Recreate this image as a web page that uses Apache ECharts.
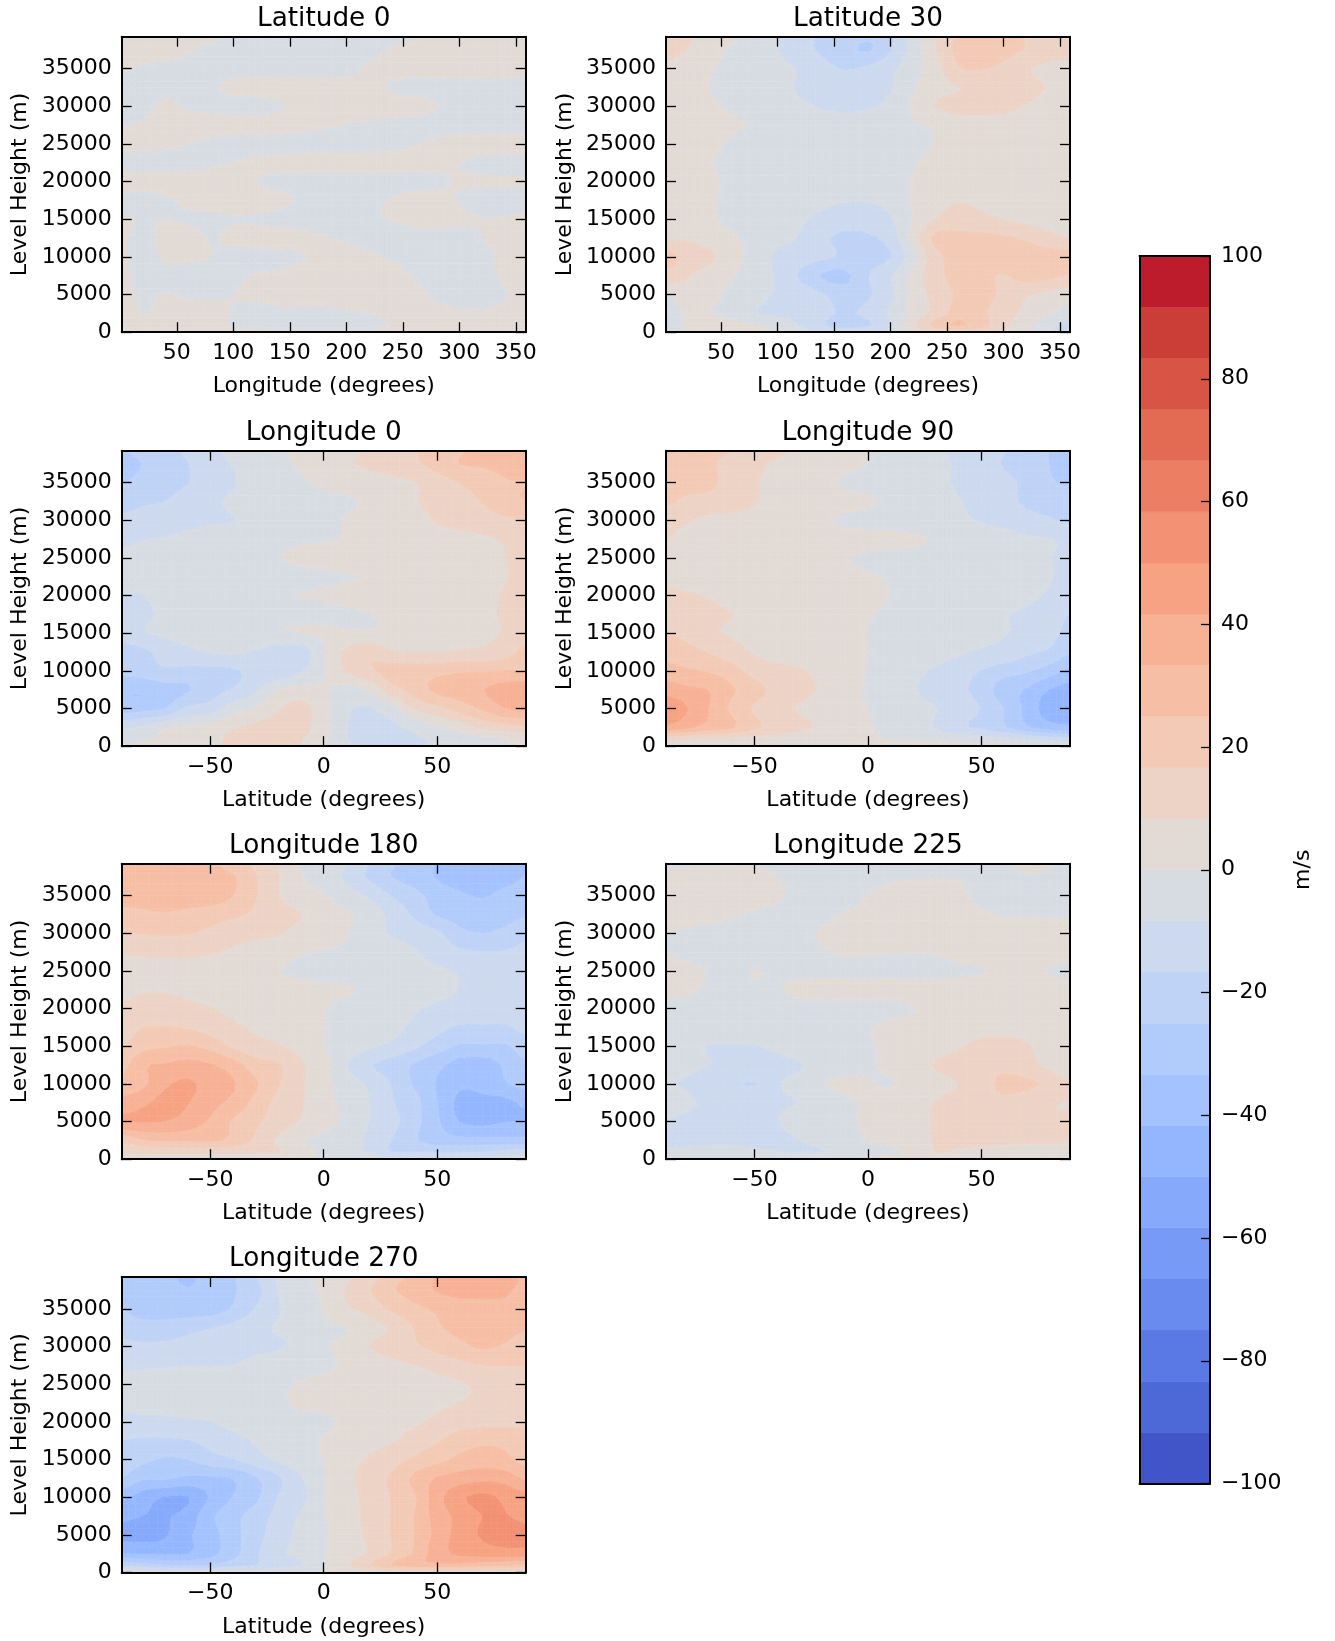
<!DOCTYPE html>
<html><head><meta charset="utf-8">
<style>html,body{margin:0;padding:0;background:#fff}#c{width:1335px;height:1641px}</style>
<script src="https://cdn.jsdelivr.net/npm/echarts@6/dist/echarts.min.js"></script>
</head><body><div id="c"></div>
<script>
const HEIGHTS=[39250,37500,35000,32500,30000,27500,25000,22500,20000,17500,15000,12500,10000,7500,5000,2500,1000,0];
const LONGITUDES=[1.25,20,40,60,80,100,120,140,160,180,200,220,240,260,280,300,320,340,358.75];
const LATITUDES=[-89,-80,-70,-60,-50,-40,-30,-20,-10,0,10,20,30,40,50,60,70,80,89];
const HEIGHT_TICKS=[0,5000,10000,15000,20000,25000,30000,35000];
const LON_TICKS=[50,100,150,200,250,300,350];
const LAT_TICKS=[-50,0,50];
const CBAR_TICKS=[-100,-80,-60,-40,-20,0,20,40,60,80,100];
const latitude0=[
[3,3,3,3,2,-2,-3,-3,-3,-3,-3,-3,-2,-1,2,3,3,3,3],
[3,3,3,1,-2,-3,-3,-3,-3,-3,-3,-2,0.5,3,3,3,3,3,3],
[1,-1,-2,-3,-3,-3,-3,-3,-3,-3,-2,1,3,3,3,3,3,3,3],
[-3,-3,-3,-3,-1,2,3,3,3,3,3,2,-1,-3,-3,-3,-3,-3,-3],
[-3,-3,2,-1,-2,-3,-3,-1,2,3,3,3,3,3,0.5,-3,-3,-3,-3],
[-0.5,1,3,3,3,3,3,3,2,1,-0.3,-1,-2,-3,-3,-3,-3,-3,-3],
[3,2,1.5,0,-1.5,-3,-3,-3,-3,-3,-3,-3,-2,-0.5,1.5,3,3,3,3],
[-3,-3,-3,-2,-1,0.2,1.5,2,3,3,3,3,3,3,1.5,0,-2,-3,-3],
[2,3,3,3,3,1.5,0,-2,-3,-3,-3,-3,-3,-3,-1,0.5,1,1,1],
[-3,-3,-1,1.5,3,3,3,2,-1,-3,-3,-1.5,0.5,3,2,-0.5,-3,-3,-3],
[1,-0.5,0,-1,-2,-0.5,-1,-2,-3,-3,-2.5,-0.5,0.2,2,3,1.5,0.3,0.6,1.5],
[1,-2,2,3,-0.5,2,3,3,2,0.5,-1,-3,-3,-3,-3,-3,0,3,3],
[1,-3,1.5,1.5,0,-3,-3,-2,-0.5,1.5,3,1.5,-1,-3,-3,-3,-2.5,2,3],
[2,-3,-3,-3,-3,-1.5,0.7,1,2,3,3,3,3,-0.5,-3,-3,-3,1.5,3],
[3,-1,0.3,-1,-1,0,1,1,2,2,3,3,3,2,-1.5,-3,-3,-0.5,2],
[3,-0.3,2,3,2,-0.3,-2,-0.5,-1,-1,-0.7,0,1,3,2,1,1,1.5,3],
[3,3,3,3,1.5,-0.5,-2,-2,-2,-2,-2,-1,0.5,3,3,3,3,3,3],
[3,3,3,3,2,1,1,0,-2,-2,-2,-0.5,2,3,3,3,3,3,3]];
const latitude30=[
[10,9,5,1,-3,-8,-13,-18,-20,-24,-18,-4,8,18,20,19,16,12,12],
[12,8,3,-1,-4,-8,-14,-18,-22,-26,-17,-5,8,19,25,20,16,11,10],
[6,3,0.5,-2,-4,-6,-9,-14,-17,-15,-10,-3,5,16,17,14,9,7,7],
[5,3,0,-2,-4,-5,-9.5,-12,-13,-13,-9,-1,5,8,10,11,10,8,6],
[5,3,1,-1,-3,-5,-7,-9,-10,-9,-6,1.5,8.5,11,11,10,8,6,5],
[5,4,3,1,-0.5,-3,-5,-5,-5,-5,-4,-1,1,4,5,5,5,5,5],
[4,4,1.5,-1,-3,-4,-5,-5,-5,-5,-4,-2,0.5,3,4,4,4,4,4],
[4,3,0.3,-1.5,-3,-4,-5,-5,-5,-5,-3,-0.5,2,4,4,4,4,4,4],
[4,3,1,-1.5,-3,-4,-5,-5,-5,-5,-3,0.5,3,4,4,4,4,4,4],
[4,2,0.5,-1,-3,-4,-6,-7,-8,-8,-6,1.5,6,8,7,5,4,4,4],
[3,2,1,-2,-4,-6,-7.5,-10,-12,-12,-9,0,8.5,11,10,8,6,5,4],
[7,7,4,1,-3,-6,-9,-15,-19,-18,-13,4,19,19,19,18,15,11,8],
[20,14,10,3,-3,-10,-12,-15,-18,-20,-17,-3,14,19,21,22,22,21,20],
[13,9,4,1,-6,-9,-18,-26,-27,-17,-9,3,14,19,19,16,20,19,16],
[0,5,3,-3,-6,-9,-11,-16,-21,-18,-10,3,11,18,19,15,9,6,3],
[-9,2,0,-3,-8,-10,-11,-14,-18,-14,-7,3,11,20,18,12,6,1,-3],
[-10,2,3,2,0,-3,-9,-16,-22,-18,-9,6,20,26,20,10,3,-5,-10],
[-10,2,3,3,2,-1,-5,-9,-10,-10,-6,4,10,12,12,8,0,-8,-10]];
const longitude0=[
[-26,-22,-20,-15,-11,-6,-4,-1,2,4,6,9,11,16,20,24,28,30,31],
[-28,-25,-20,-17,-11,-8,-5,-1.5,1,4,7,10,12,15,20,25,26,28,30],
[-26,-22,-19,-17,-12,-9,-5,-2.5,-1,1.5,3,4,6,8,12,17,20,24,25],
[-20,-18,-16.7,-13,-10,-7,-5,-3,-3,-2,-1,1,4,8,10,13,17,22,25],
[-15,-13,-11,-10,-9,-8.5,-5,-4,-3,-1.5,0.5,3,4,6,9,11,13,15,16],
[-10,-8.5,-8,-7,-6,-5,-4,-2.5,-1,-0.5,0.3,1,2,4,5,6,7,9,10],
[-7,-7,-6,-6,-5,-4,-3,-0.3,1.5,2,3,4,4,5,5,5,7,8.3,11],
[-7,-7,-6,-6,-5,-4,-3,-3,-2,-1,-0.5,0.3,2,4,5,5,6,8,10],
[-8.5,-8.4,-6,-5,-5,-4,-3,-1.5,0.3,0.5,2,3,4,5,5,5,6,9,10],
[-12,-10,-7,-5,-5,-4,-3,-2.5,-2,-1.5,-1,-0.3,2,4,5,6,7,9,10],
[-14,-9,-7,-6,-5,-4,-2,-0.5,0,1,1,1,1.5,3,4,6,7,9,14],
[-20,-19,-13,-10,-8,-7,-9,-13,-13,-1,10,15,9,8,8,9,10,13,19],
[-23,-20,-18,-19,-19,-18,-14,-15,-9,-1,9,15,20,21,22,24,24,25,25],
[-32,-33,-28,-26,-20,-16,-10,0.3,3,1,-3,1,13,20,27,29,33,37,38],
[-30,-28,-25,-15,-13,-4,1,7.5,11,3,-7,-9,-3,9,14,20,26,33,35],
[-10,-7,-1,1,3,7,10,11,11,3,-8,-10,-10,-6,-1,4,10,13,15],
[-3,-1,0.5,2,5,10,10,10,9,2,-8,-10,-10,-9,-7,-3,-1,0.5,3],
[0,1,2,4,7,9,9,9,8,1,-7,-9,-9,-9,-7,-4,-2,0,2]];
const longitude90=[
[26,24,19,17,12,10,7,5,3,0.5,-2,-4,-7,-10,-13,-16,-20,-25,-27],
[22,19,18,13,10,7,5,4,2,-0.2,-2,-4,-7,-9,-12,-17.5,-21,-25,-28],
[20,19,18,14,9,6,4,2,-1,-2,-3,-5,-7,-9,-11,-14,-19,-24,-26],
[18,15,14,12,9,5,4,3,2,1,-1.5,-3,-6,-8,-10,-14,-18,-19,-22],
[11,9,6,6,5,4,2.5,1,-1,-2,-3,-5,-6,-7,-9,-11,-14,-16,-18],
[8.5,6,4,4,4,4,3,2,2,2,2,1.5,-1,-3,-4,-5,-7,-8,-10],
[6,5,4,4,4,4,3,2,0.3,-1,-2,-3,-4,-5,-5,-6,-6,-8,-10],
[7,6,5,4,4,4,3,2,1,0.5,-0.5,-2,-3,-4,-5,-6,-7,-8,-10],
[9.5,9,7.8,5.5,4,4,3,3,2,1,0,-1,-2,-3,-4,-5,-7,-9,-11],
[12,11,10,8.4,6,5,4,3,2,0.3,-0.8,-2,-3,-4,-5,-7.8,-9.5,-12,-17],
[16.7,14,9.5,7.5,6,5,4,3,2,-0.1,-1.5,-3,-4,-5,-6,-8,-10,-14,-19],
[22,20,16,12,7.5,6,5,4,2,0,-1,-3,-5,-7,-9.5,-11,-15,-18,-24],
[28,26,24,20,13,10,9,6,3,-0.3,-2,-6,-9.5,-13,-17,-21,-24,-29,-36],
[38,35,33,26,20,14,11,7,3,-1,-3,-7.5,-12,-15,-20,-30,-34,-42,-45],
[47,42,33,23,15.5,11,7.5,5,2,0,-3,-5,-8,-12,-17,-25,-36,-46,-48],
[40,35,30,26,18,14,10,7,2.5,0.5,-2,-4,-9,-15.5,-18,-24,-32,-38,-40],
[10,9,7,6,5,4,3,2.5,2,1,-0.5,-1,-2,-3,-5,-7,-10,-13,-15],
[3,2,1,1,0.5,-0.5,-0.8,-0.8,-0.5,1,3,3,3,2,2,2,1,0.5,0.3]];
const longitude180=[
[29,29,29,29,27,20,15,8,-0.5,-3,-8,-16.7,-24,-28,-34,-36,-36,-36,-34],
[30,30,30,31,30,26,17,8.5,0.5,-3,-10,-18,-25,-29,-34,-37,-38,-36,-33],
[29,29,30,31,30,25,17,8.6,3,0.5,-4,-9.5,-17,-22,-29,-32,-34,-31,-30],
[22,23,24,22,20,18,15,11,8.5,3,1,-3,-11,-18,-26,-28,-29,-28,-26],
[16,17,17.5,17,15,12,10,9,5,3,0.3,-5,-9,-12,-15,-23,-25,-23,-19],
[9,9.5,10,10,9,7,5,3,0.5,-0.5,-1,-3,-5,-7.5,-12,-15,-16.5,-16,-14],
[5,6,6,6,5,4,3,0.1,-1,-2,-3,-4,-5,-6,-7,-9,-10,-11,-11],
[7,8,8,7,5,4,3,2,2,1,0.8,-1.5,-3,-5,-7,-8.5,-10,-10,-10],
[9,10,10.5,10,8.8,6,4,3,1.5,0.2,-2,-3,-5,-7.5,-9.5,-10,-11,-11,-10],
[12,16.5,17,16,13,10,7,5,2,0.3,-2,-4,-6,-10,-14,-18,-18,-18,-14],
[16,22,24,25.5,22,15,11,9,5,0.2,-3,-7,-10,-15,-21,-26,-26,-26,-21],
[22,32,34,36,34,29,20,17.5,9.5,3,-8,-16,-20,-26,-31,-37,-38,-32,-26],
[27,31,40,43,38,34,26,17,9.5,2,-4,-9.5,-17,-26,-34,-40,-39,-34,-30],
[36,40,44,42,36,31,22,14,9,2.5,-2,-8,-16,-22,-33,-44,-44,-44,-40],
[41.5,42,41.5,38,32,24,18,13,7.5,1.5,-1,-8.3,-14,-22,-32,-42,-44,-42,-41.5],
[18,24,26,26,26,23,15,7,0.2,-1,-4,-10,-16.7,-24,-29,-31,-31,-31,-31],
[9,10,11,11,11,10,9,8.6,3,-1.5,-6,-9,-17,-17,-18,-18,-17,-15,-12],
[5,5,5,5,5,5,4,3,1,-1,-3,-4,-5,-5,-6,-6,-6,-5,-4]];
const longitude225=[
[-1,-1,-1,-0.5,-1,-2,-3,-3,-3,-3,-3,-3,-3,-2,-2,-0.3,0.8,0.3,-2],
[3,3,3,3,3,0,-2,-3,-3,-2,-1,-0.5,-0.3,-0.3,-1,-2,-0.3,-1,-2],
[3,3,3,3,3,1,-2,-3,-2,0.2,2,3,3,1.5,-2,-3,-3,-3,-3],
[3,3,2,1,-1,-2,-3,-2,0.5,1,3,3,3,3,1,-0.5,-0.5,-0.8,-1],
[-0.3,-1,-2,-3,-3,-3,-2,1,3,3,3,3,3,3,3,3,3,3,3],
[-0.5,-2,-3,-3,-3,-3,-3,-0.5,0.8,0.6,0.1,0.2,0.5,2,3,3,3,3,3],
[3,2,-0.5,-1,0.2,-1,-2,-2,-2,-2,-2,-2,-2,-1,-0.5,2,2,-0.5,-1],
[1.5,1,-1,-2,-1,-0.5,2,3,3,3,3,3,3,3,3,3,3,3,3],
[-2,-2,-3,-3,-3,-3,-3,-3,-3,-3,-2,-0.3,2,3,3,3,3,3,3],
[-3,-3,-3,-3,-3,-3,-3,-3,-2,-0.5,2,3,4,6,6,6,5,4,4],
[-4,-6,-8.6,-8.8,-8.6,-7,-4,-3,-2,-0.5,1,3,5,7.5,10,11,9,5,4],
[-7,-6.5,-8.2,-10,-10,-10,-8.9,-5,-2,-1,2,6,9,12,14,15,11,6,1],
[-8.3,-9,-13,-15,-17,-9,-6,-0.2,1,0.5,-0.5,4,6,8.4,14,18,18,15,9],
[-6,-7,-10,-12,-10,-9,-8.2,-4,-1,1,4,6,8.6,11,14,15,12,9,8],
[-8.3,-10,-10,-11,-10,-8.5,-5,-3,-1,1,3,6,9,11,11,11,10,9,9],
[-10,-10,-10,-10,-9.5,-10,-8.3,-5,-2,0.2,1,5,9,11,10,10,9.5,9.5,9],
[-7,-7,-6,-6,-7.5,-8,-9,-8.6,-4,-1,-0.5,1,8.5,7,6,5,4,4,4],
[-3,-3,-3,-3,-3,-3,-3,-3,-1,0.5,1,2,3,3,3,3,3,3,3]];
const longitude270=[
[-28,-29,-32,-34,-31,-26,-17,-7,-3,2,7,12,22,27,34,35,36,36,32],
[-28,-29,-31,-33,-31,-26,-20,-8,-3,1.5,9,16,24,28,34,36,35,34,32],
[-25,-28,-30,-30,-29,-24,-16,-9,-4,0.5,7,11,18,23,26,29,31,32,31],
[-21,-22,-21,-19,-17,-14,-11,-7.5,-7.5,-1,-0.3,5,9,17,24,27,28,28,26],
[-14,-15,-15,-14,-13,-12,-10,-9,-6,-1,2,8.3,12,15.5,19,23,26,24,20],
[-9.5,-9,-8.8,-8.5,-8.5,-8.2,-6,-4.5,-2.5,-0.8,0.5,2,6,8,11,14,16.5,16.8,17],
[-7,-7,-6,-5,-5,-4,-3,-1.5,0.5,1,2,3,4,5,6,7.5,10,11,11],
[-7.5,-7,-6,-5,-5,-4,-3,-1,1,1,2,4,5,6,7,8.4,10,11,11],
[-10,-10,-10,-9.5,-8.5,-6,-4,-3,-2,-1,1,4,6,7,10,13,14,14,14],
[-16.8,-18,-18,-17,-14,-11,-7.5,-5,-3,0.5,3,6,7.5,12,16,21,23,23,22],
[-20,-23,-26,-25,-20,-17,-11.5,-7,-3,0.3,6,9,13,18,22,27,29,27,22],
[-25,-32,-32,-35,-35,-33,-26,-18,-9,-1,6,12,18,27,34,37,39,38,32],
[-40,-46,-50.5,-50.5,-41,-33,-27,-16,-11,-0.5,5,11,17,24,38,48,52,48,44],
[-48,-50,-50.5,-47,-35,-28,-21,-14,-7,-0.5,4,11,17,25,37,44,50,50.5,47],
[-52,-53,-51,-43,-37,-28,-20,-12,-6,-1,4,10,17,25,36,45,51,54,53],
[-41.5,-42,-43,-42,-36,-28,-18,-10,-6,-0.5,4,9,17,26,38,43,45,46,46],
[-20,-22,-25,-25,-25,-20,-17,-11,-8.5,-1,7,16,25,30,31,30,28,26,24],
[-3,-3,-3,-3,-3,-3,-3,-3,-2,1,2,3,3,3,3,3,3,3,3]];

const PANEL_TITLES=['Latitude 0','Latitude 30','Longitude 0','Longitude 90','Longitude 180','Longitude 225','Longitude 270'];
const PANEL_VALUES=[latitude0,latitude30,longitude0,longitude90,longitude180,longitude225,longitude270];

/* ---- matplotlib coolwarm stops (styling only) ---- */
const CW_R=[0.2298,0.2662,0.3039,0.3428,0.3830,0.4244,0.4667,0.5096,0.5530,0.5963,0.6392,0.6813,0.7222,0.7615,0.7987,0.8335,0.8654,0.8978,0.9241,0.9445,0.9589,0.9673,0.9700,0.9668,0.9580,0.9437,0.9239,0.8990,0.8692,0.8346,0.7956,0.7525,0.7057];
const CW_G=[0.2987,0.3531,0.4065,0.4588,0.5094,0.5581,0.6046,0.6483,0.6889,0.7261,0.7596,0.7890,0.8140,0.8343,0.8498,0.8602,0.8654,0.8489,0.8274,0.8009,0.7698,0.7341,0.6943,0.6504,0.6028,0.5518,0.4973,0.4396,0.3783,0.3129,0.2413,0.1572,0.0156];
const CW_B=[0.7537,0.8015,0.8450,0.8837,0.9174,0.9456,0.9682,0.9848,0.9954,0.9998,0.9982,0.9904,0.9766,0.9569,0.9317,0.9011,0.8654,0.8209,0.7745,0.7267,0.6780,0.6288,0.5794,0.5303,0.4818,0.4342,0.3880,0.3432,0.3003,0.2593,0.2205,0.1841,0.1502];
function cw(t){const f=t*32,i=Math.min(31,Math.floor(f)),a=f-i;
  const c=s=>Math.round(255*(s[i]*(1-a)+s[i+1]*a));return `rgb(${c(CW_R)},${c(CW_G)},${c(CW_B)})`;}
const N_BANDS=24, LEVEL_MIN=-100, LEVEL_STEP=200/24;
const BAND_COLORS=[];for(let k=0;k<N_BANDS;k++)BAND_COLORS.push(cw((k+0.5)/N_BANDS));
const lo=k=>LEVEL_MIN+k*LEVEL_STEP;

/* contour drawing: smooth surface through the read grid values, then clip each piece to the bands */
const SUB=3;
function cr(p0,p1,p2,p3,t){return 0.5*((2*p1)+(-p0+p2)*t+(2*p0-5*p1+4*p2-p3)*t*t+(-p0+3*p1-3*p2+p3)*t*t*t);}
function surface(values){
  const R=values.length,C=values[0].length,at=(j,i)=>values[Math.max(0,Math.min(R-1,j))][Math.max(0,Math.min(C-1,i))];
  return function(j,i,sj,si){
    const t=si/SUB,u=sj/SUB,col=[];
    for(let q=-1;q<=2;q++)col.push(cr(at(j+q,i-1),at(j+q,i),at(j+q,i+1),at(j+q,i+2),t));
    return cr(col[0],col[1],col[2],col[3],u);
  };
}
function clipHalf(poly,level,keepAbove){
  const out=[];
  for(let a=0;a<poly.length;a++){
    const P=poly[a],Q=poly[(a+1)%poly.length];
    const pin=keepAbove?P[2]>=level:P[2]<=level, qin=keepAbove?Q[2]>=level:Q[2]<=level;
    if(pin)out.push(P);
    if(pin!==qin){const t=(level-P[2])/(Q[2]-P[2]);out.push([P[0]+t*(Q[0]-P[0]),P[1]+t*(Q[1]-P[1]),level]);}
  }
  return out;
}
function contourRenderer(xs,values){
  const S=surface(values);
  return function(params,api){
    const i=api.value(2),j=api.value(3);
    const children=[];
    const emit=(poly,k)=>{ if(poly.length<3)return;
      children.push({type:'polygon',silent:true,shape:{points:poly.map(p=>api.coord([p[0],p[1]]))},
        style:{fill:BAND_COLORS[k],stroke:BAND_COLORS[k],lineWidth:0.5}});};
    const X=s=>xs[i]+(xs[i+1]-xs[i])*s/SUB, Y=s=>HEIGHTS[j]+(HEIGHTS[j+1]-HEIGHTS[j])*s/SUB;
    for(let sj=0;sj<SUB;sj++)for(let si=0;si<SUB;si++){
      const A=[X(si),Y(sj),S(j,i,sj,si)],B=[X(si+1),Y(sj),S(j,i,sj,si+1)],
            C=[X(si+1),Y(sj+1),S(j,i,sj+1,si+1)],D=[X(si),Y(sj+1),S(j,i,sj+1,si)];
      const M=[(A[0]+B[0])/2,(A[1]+D[1])/2,(A[2]+B[2]+C[2]+D[2])/4];
      const vmin=Math.min(A[2],B[2],C[2],D[2]),vmax=Math.max(A[2],B[2],C[2],D[2]);
      const k0=Math.floor((vmin-LEVEL_MIN)/LEVEL_STEP),k1=Math.floor((vmax-LEVEL_MIN)/LEVEL_STEP);
      if(k0===k1){emit([A,B,C,D],k0);continue;}
      const tris=[[A,B,M],[B,C,M],[C,D,M],[D,A,M]];
      for(let k=k0;k<=k1;k++)for(const T of tris){
        let p=clipHalf(T,lo(k),true); if(p.length) p=clipHalf(p,lo(k+1),false);
        emit(p,k);
      }
    }
    return {type:'group',children};
  };
}

const FONT='DejaVu Sans';
const minus=v=>String(v).replace('-','\u2212');
const COL_X=[121.7,666], COL_W=404;
const ROW_Y=[36.7,450.7,863.7,1277], ROW_H=295.5;
const LAYOUT=[[0,0],[1,0],[0,1],[1,1],[0,2],[1,2],[0,3]];
const grids=[],xAxes=[],yAxes=[],series=[],titles=[];
const spine={show:true,onZero:false,lineStyle:{color:'#000',width:2}};
function axisCommon(){return {type:'value',z:6,splitLine:{show:false},axisLine:spine};}
LAYOUT.forEach(([c,r],p)=>{
  const isLon=p<2,xs=isLon?LONGITUDES:LATITUDES,ticks=isLon?LON_TICKS:LAT_TICKS;
  grids.push({left:COL_X[c],top:ROW_Y[r],width:COL_W,height:ROW_H});
  const xmin=xs[0],xmax=xs[xs.length-1];
  xAxes.push(Object.assign(axisCommon(),{gridIndex:p,position:'bottom',min:xmin,max:xmax,
    name:isLon?'Longitude (degrees)':'Latitude (degrees)',nameLocation:'middle',nameGap:43.5,
    nameTextStyle:{fontFamily:FONT,fontSize:22,color:'#000'},
    axisTick:{show:true,inside:true,length:10,customValues:ticks,lineStyle:{color:'#000',width:1.3}},
    axisLabel:{show:true,customValues:ticks,formatter:minus,margin:10,fontFamily:FONT,fontSize:22,color:'#000'}}));
  xAxes.push(Object.assign(axisCommon(),{gridIndex:p,position:'top',min:xmin,max:xmax,
    axisTick:{show:true,inside:true,length:10,customValues:ticks,lineStyle:{color:'#000',width:1.3}},axisLabel:{show:false}}));
  yAxes.push(Object.assign(axisCommon(),{gridIndex:p,position:'left',min:0,max:39250,
    name:'Level Height (m)',nameLocation:'middle',nameGap:90,nameRotate:90,
    nameTextStyle:{fontFamily:FONT,fontSize:22,color:'#000'},
    axisTick:{show:true,inside:true,length:10,customValues:HEIGHT_TICKS,lineStyle:{color:'#000',width:1.3}},
    axisLabel:{show:true,customValues:HEIGHT_TICKS,formatter:v=>String(v),margin:10,padding:[3,0,0,0],fontFamily:FONT,fontSize:22,color:'#000'}}));
  yAxes.push(Object.assign(axisCommon(),{gridIndex:p,position:'right',min:0,max:39250,
    axisTick:{show:true,inside:true,length:10,customValues:HEIGHT_TICKS,lineStyle:{color:'#000',width:1.3}},axisLabel:{show:false}}));
  const cells=[];const vals=PANEL_VALUES[p];
  for(let j=0;j<HEIGHTS.length-1;j++)for(let i=0;i<xs.length-1;i++)cells.push([xs[i],HEIGHTS[j],i,j]);
  series.push({type:'custom',name:PANEL_TITLES[p],xAxisIndex:2*p,yAxisIndex:2*p,coordinateSystem:'cartesian2d',
    data:cells,encode:{x:0,y:1},renderItem:contourRenderer(xs,vals),animation:false,silent:true,clip:true,z:2,progressive:0});
  titles.push({text:PANEL_TITLES[p],left:COL_X[c]+COL_W/2-5,top:ROW_Y[r]-36,textAlign:'center',
    textStyle:{fontFamily:FONT,fontSize:26.3,fontWeight:'normal',color:'#000'}});
});
/* colour bar */
const CB=7;
grids.push({left:1139.5,top:256,width:70.5,height:1227.5});
xAxes.push(Object.assign(axisCommon(),{gridIndex:CB,position:'bottom',min:0,max:1,axisTick:{show:false},axisLabel:{show:false}}));
xAxes.push(Object.assign(axisCommon(),{gridIndex:CB,position:'top',min:0,max:1,axisTick:{show:false},axisLabel:{show:false}}));
yAxes.push(Object.assign(axisCommon(),{gridIndex:CB,position:'right',min:-100,max:100,
  name:'m/s',nameLocation:'middle',nameGap:82,nameRotate:90,nameTextStyle:{fontFamily:FONT,fontSize:22,color:'#000'},
  axisTick:{show:true,inside:true,length:9,customValues:CBAR_TICKS,lineStyle:{color:'#000',width:1.3}},
  axisLabel:{show:true,customValues:CBAR_TICKS,formatter:minus,margin:11,padding:[4,0,0,0],fontFamily:FONT,fontSize:22,color:'#000'}}));
yAxes.push(Object.assign(axisCommon(),{gridIndex:CB,position:'left',min:-100,max:100,axisTick:{show:false},axisLabel:{show:false}}));
const cbData=BAND_COLORS.map((_,k)=>[0,lo(k),k]);
series.push({type:'custom',name:'colorbar',xAxisIndex:2*CB,yAxisIndex:2*CB,coordinateSystem:'cartesian2d',data:cbData,encode:{x:0,y:1},
  animation:false,silent:true,z:2,
  renderItem(params,api){const k=api.value(2),p0=api.coord([0,lo(k)]),p1=api.coord([1,lo(k+1)]);
    return {type:'rect',silent:true,shape:{x:p0[0],y:p1[1],width:p1[0]-p0[0],height:p0[1]-p1[1]},
      style:{fill:BAND_COLORS[k],stroke:BAND_COLORS[k],lineWidth:0.5}};}});

const chart=echarts.init(document.getElementById('c'),null,{renderer:'canvas',width:1335,height:1641});
chart.setOption({animation:false,backgroundColor:'#fff',title:titles,grid:grids,xAxis:xAxes,yAxis:yAxes,series,tooltip:{show:false}});
</script></body></html>
